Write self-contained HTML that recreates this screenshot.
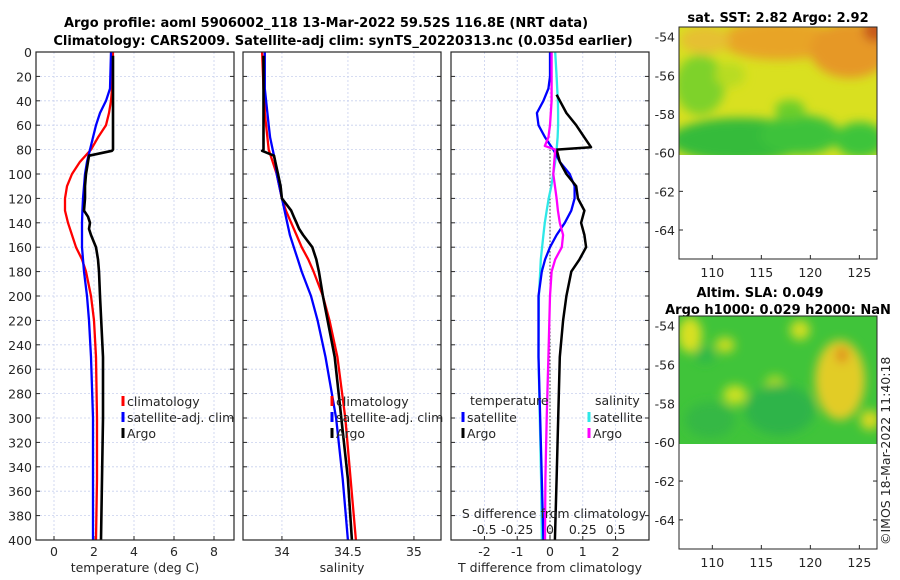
<!DOCTYPE html>
<html><head><meta charset="utf-8">
<style>
body{margin:0;background:#fff;}
svg{display:block;font-family:"DejaVu Sans","Liberation Sans",sans-serif;}
.t{font-size:12.5px;fill:#262626;}
.b{font-size:13px;font-weight:bold;fill:#000;}
</style></head><body>
<svg id="c" width="900" height="580" viewBox="0 0 900 580">
<defs>
<filter id="bl" x="-20%" y="-20%" width="140%" height="140%"><feGaussianBlur stdDeviation="5"/></filter>
<clipPath id="cp1"><rect x="679" y="27" width="198" height="128"/></clipPath>
<clipPath id="cp2"><rect x="679" y="316" width="198" height="128"/></clipPath>
</defs>
<text class="b" x="326" y="27" text-anchor="middle">Argo profile: aoml 5906002_118 13-Mar-2022 59.52S 116.8E (NRT data)</text>
<text class="b" x="343" y="45" text-anchor="middle">Climatology: CARS2009. Satellite-adj clim: synTS_20220313.nc (0.035d earlier)</text>
<g id="g"></g>
<g>
<text class="b" x="778" y="22" text-anchor="middle">sat. SST: 2.82 Argo: 2.92</text>
<g clip-path="url(#cp1)">
<rect x="679" y="27" width="198" height="128" fill="#d9e020"/>
<g filter="url(#bl)">
<ellipse cx="780" cy="40" rx="60" ry="20" fill="#e8a428"/>
<ellipse cx="850" cy="50" rx="40" ry="28" fill="#e69826"/>
<ellipse cx="875" cy="30" rx="12" ry="12" fill="#c8581a"/>
<ellipse cx="705" cy="40" rx="25" ry="14" fill="#e6c030"/>
<ellipse cx="700" cy="85" rx="25" ry="30" fill="#7ed22a"/>
<ellipse cx="730" cy="75" rx="15" ry="12" fill="#b8dc20"/>
<ellipse cx="740" cy="140" rx="70" ry="22" fill="#34bb3a"/>
<ellipse cx="800" cy="135" rx="40" ry="20" fill="#3cc23a"/>
<ellipse cx="860" cy="140" rx="25" ry="18" fill="#3ec43a"/>
<ellipse cx="790" cy="110" rx="15" ry="10" fill="#6cce2c"/>
</g></g>
<rect x="679" y="27" width="198" height="232" fill="none" stroke="#262626"/>
</g>
<g>
<text class="b" x="760" y="297" text-anchor="middle">Altim. SLA: 0.049</text>
<text class="b" x="778" y="314" text-anchor="middle">Argo h1000: 0.029 h2000: NaN</text>
<g clip-path="url(#cp2)">
<rect x="679" y="316" width="198" height="128" fill="#40c43a"/>
<g filter="url(#bl)">
<ellipse cx="690" cy="335" rx="12" ry="18" fill="#d8e020"/>
<ellipse cx="725" cy="345" rx="10" ry="8" fill="#c8dc20"/>
<ellipse cx="735" cy="395" rx="12" ry="10" fill="#c8e020"/>
<ellipse cx="775" cy="385" rx="10" ry="10" fill="#a8d828"/>
<ellipse cx="800" cy="330" rx="10" ry="10" fill="#d0de22"/>
<ellipse cx="840" cy="380" rx="25" ry="40" fill="#e2cc28"/>
<ellipse cx="842" cy="355" rx="6" ry="8" fill="#e08a20"/>
<ellipse cx="870" cy="420" rx="10" ry="10" fill="#d8d822"/>
<ellipse cx="780" cy="410" rx="35" ry="25" fill="#2eb448"/>
<ellipse cx="710" cy="420" rx="25" ry="18" fill="#34b844"/>
<ellipse cx="705" cy="355" rx="10" ry="8" fill="#2fb848"/>
</g></g>
<rect x="679" y="316" width="198" height="233" fill="none" stroke="#262626"/>
</g>
<text class="t" transform="translate(890,545) rotate(-90)">©IMOS 18-Mar-2022 11:40:18</text>
</svg>
<script>
const depthT=[0,30,40,50,60,70,80,90,100,110,120,130,140,150,160,170,180,200,220,250,300,350,400];
const tClim=[2.95,2.9,2.85,2.75,2.6,2.2,1.85,1.3,0.9,0.65,0.55,0.55,0.7,0.9,1.1,1.4,1.6,1.85,2.0,2.1,2.15,2.15,2.1];
const tSat=[2.85,2.8,2.6,2.3,2.1,1.95,1.8,1.65,1.55,1.5,1.45,1.42,1.4,1.4,1.4,1.45,1.5,1.65,1.75,1.85,1.95,1.95,1.95];
const depthArgo=[3,20,40,60,80,81,85,90,100,110,120,130,135,140,145,150,160,170,180,200,250,300,350,400];
const tArgo=[2.95,2.95,2.95,2.95,2.95,2.9,1.75,1.7,1.6,1.55,1.55,1.5,1.7,1.8,1.75,1.85,2.1,2.2,2.25,2.3,2.45,2.45,2.4,2.35];
const sArgo=[33.86,33.86,33.86,33.86,33.86,33.85,33.94,33.95,33.97,33.99,34.0,34.07,34.09,34.11,34.13,34.16,34.23,34.26,34.28,34.31,34.4,34.45,34.5,34.53];
const sClim=[33.85,33.86,33.87,33.87,33.88,33.89,33.9,33.93,33.96,33.98,34.0,34.03,34.07,34.11,34.15,34.2,34.24,34.31,34.36,34.42,34.48,34.52,34.56];
const sSat=[33.87,33.87,33.88,33.89,33.9,33.91,33.93,33.95,33.96,33.98,34.0,34.02,34.04,34.06,34.09,34.12,34.15,34.22,34.27,34.33,34.41,34.46,34.5];
const depthD=[0,20,30,40,50,60,70,80,90,100,110,120,130,140,150,160,170,180,200,250,300,350,400];
const dTSat=[0,0,-0.05,-0.2,-0.4,-0.35,-0.15,0.1,0.3,0.6,0.75,0.75,0.65,0.45,0.2,0,-0.15,-0.25,-0.35,-0.35,-0.3,-0.25,-0.2];
const dSSat=[0.04,0.05,0.055,0.06,0.062,0.062,0.058,0.05,0.04,0.025,0.01,-0.01,-0.025,-0.04,-0.05,-0.06,-0.07,-0.075,-0.085,-0.088,-0.078,-0.068,-0.062];
const depthDA=[35,50,60,70,78,80,90,100,110,120,130,140,150,160,170,180,200,220,250,300,350,400];
const dTArgo=[0.2,0.5,0.8,1.05,1.25,0.2,0.3,0.5,0.8,0.85,1.05,0.95,1.05,1.1,0.9,0.65,0.5,0.4,0.3,0.25,0.2,0.15];
const depthDS=[0,20,40,60,70,77,80,100,120,130,140,150,160,170,180,200,250,300,350,400];
const dSArgo=[0.012,0.012,0.012,0,-0.012,-0.04,0.04,0.025,0.05,0.06,0.075,0.1,0.09,0.04,0.012,0,-0.012,-0.025,-0.035,-0.038];
const depthTicks=[0,20,40,60,80,100,120,140,160,180,200,220,240,260,280,300,320,340,360,380,400];
const tTicks=[0,2,4,6,8];
const sTicks=[34,34.5,35];
const dTTicks=[-2,-1,0,1,2];
const dSTicks=[-0.5,-0.25,0,0.25,0.5];
const dSLabels=["-0.5","-0.25","0","0.25","0.5"];
const latTicks=[-54,-56,-58,-60,-62,-64];
const lonTicks=[110,115,120,125];
const argoLon=116.8, argoLat=-59.52;
const NS='http://www.w3.org/2000/svg';
const G=document.getElementById('g');
function mk(tag,at,parent){const e=document.createElementNS(NS,tag);for(const k in at)e.setAttribute(k,at[k]);(parent||G).appendChild(e);return e;}
const Y0=52,Y1=540;
const yD=d=>Y0+(d/400)*(Y1-Y0);
const panels=[
 {x0:36,x1:234,min:-0.9,max:9,ticks:tTicks,name:'temperature-panel',label:'temperature (deg C)'},
 {x0:243,x1:441,min:33.705,max:35.205,ticks:sTicks,name:'salinity-panel',label:'salinity'},
 {x0:451,x1:649,min:-3.02,max:3.02,ticks:dTTicks,name:'difference-panel',label:'T difference from climatology'}
];
panels.forEach((p,i)=>{
 p.sx=v=>p.x0+(v-p.min)/(p.max-p.min)*(p.x1-p.x0);
 const g=mk('g',{});
 
 
 p.g=g;
 depthTicks.forEach(d=>{
  const y=yD(d);
  const l=mk('line',{x1:p.x0,x2:p.x1,y1:y,y2:y,stroke:'#c8d0ee','stroke-dasharray':'2,2','stroke-width':0.8},g);
  
  
  mk('line',{x1:p.x0,x2:p.x0+4,y1:y,y2:y,stroke:'#262626'},g);
  mk('line',{x1:p.x1-4,x2:p.x1,y1:y,y2:y,stroke:'#262626'},g);
  if(i===0){const t=mk('text',{x:p.x0-4,y:y+5,'text-anchor':'end',class:'t'},g);t.textContent=d;
   
   }
 });
 p.ticks.forEach((v,k)=>{
  const x=p.sx(v);
  mk('line',{x1:x,x2:x,y1:Y0,y2:Y1,stroke:'#c8d0ee','stroke-dasharray':'2,2','stroke-width':0.8},g);
  mk('line',{x1:x,x2:x,y1:Y1,y2:Y1-4,stroke:'#262626'},g);
  const t=mk('text',{x:x,y:Y1+16,'text-anchor':'middle',class:'t'},g);t.textContent=v;
  
  
 });
 const lb=mk('text',{x:(p.x0+p.x1)/2,y:572,'text-anchor':'middle',class:'t'},g);lb.textContent=p.label;
 
 
});
function line(p,xs,ds,col,name,w){
 const d=xs.map((v,i)=>(i?'L':'M')+p.sx(v).toFixed(1)+','+yD(ds[i]).toFixed(1)).join('');
 const e=mk('path',{d:d,fill:'none',stroke:col,'stroke-width':w||2.3,'stroke-linejoin':'round'},p.g);
 
 
}
const P1=panels[0],P2=panels[1],P3=panels[2];
line(P1,tClim,depthT,'#f00','temp-climatology-line');
line(P1,tSat,depthT,'#00f','temp-satellite-line');
line(P1,tArgo,depthArgo,'#000','temp-argo-line',2.6);
line(P2,sClim,depthT,'#f00','sal-climatology-line');
line(P2,sSat,depthT,'#00f','sal-satellite-line');
line(P2,sArgo,depthArgo,'#000','sal-argo-line',2.6);
const z=mk('line',{x1:P3.sx(0),x2:P3.sx(0),y1:yD(80),y2:Y1,stroke:'#333','stroke-dasharray':'1.5,2'},P3.g);


line(P3,dSSat.map(v=>v*4),depthD,'#2ee8e8','sal-satellite-diff-line');
line(P3,dTSat,depthD,'#00f','temp-satellite-diff-line');
line(P3,dTArgo,depthDA,'#000','temp-argo-diff-line',2.5);
line(P3,dSArgo.map(v=>v*4),depthDS,'#f0f','sal-argo-diff-line');
const st=mk('text',{x:P3.sx(0)+4,y:518,'text-anchor':'middle',class:'t'},P3.g);st.textContent='S difference from climatology';


dSTicks.forEach((v,k)=>{const t=mk('text',{x:P3.sx(v*4),y:534,'text-anchor':'middle',class:'t'},P3.g);t.textContent=dSLabels[k];
 
 });
panels.forEach(p=>{const r=mk('rect',{x:p.x0,y:Y0,width:p.x1-p.x0,height:Y1-Y0,fill:'none',stroke:'#262626','stroke-width':1.2},p.g);
 
 });
function leg(x,y,col,txt,parent){
 const g=mk('g',{},parent);
 
 
 mk('line',{x1:x,x2:x,y1:y-10,y2:y,stroke:col,'stroke-width':3},g);
 const t=mk('text',{x:x+4,y:y,class:'t'},g);t.textContent=txt;
}
[[P1,123],[P2,332]].forEach(([p,x])=>{leg(x,406,'#f00','climatology',p.g);leg(x,422,'#00f','satellite-adj. clim',p.g);leg(x,438,'#000','Argo',p.g);});
let t1=mk('text',{x:470,y:405,class:'t'},P3.g);t1.textContent='temperature';
let t2=mk('text',{x:595,y:405,class:'t'},P3.g);t2.textContent='salinity';
leg(463,422,'#00f','satellite',P3.g);leg(463,438,'#000','Argo',P3.g);
leg(589,422,'#2ee8e8','satellite',P3.g);leg(589,438,'#f0f','Argo',P3.g);
[[27,259],[316,549]].forEach(([top,bot],m)=>{
 const lx=v=>679+(v-106.6)/(126.8-106.6)*198;
 const ly=v=>top+(-53.5-v)/(12)*(bot-top);
 latTicks.forEach(v=>{const y=ly(v);mk('line',{x1:679,x2:683,y1:y,y2:y,stroke:'#262626'});mk('line',{x1:873,x2:877,y1:y,y2:y,stroke:'#262626'});
  const t=mk('text',{x:675,y:y+5,'text-anchor':'end',class:'t'});t.textContent=v;
  
  });
 lonTicks.forEach(v=>{const x=lx(v);mk('line',{x1:x,x2:x,y1:bot,y2:bot-4,stroke:'#262626'});
  const t=mk('text',{x:x,y:bot+18,'text-anchor':'middle',class:'t'});t.textContent=v;
  
  });
 const c=mk('circle',{cx:lx(argoLon),cy:ly(argoLat),r:5,fill:'none',stroke:'#000','stroke-width':1.2});
 
 
});
</script>
</body></html>
